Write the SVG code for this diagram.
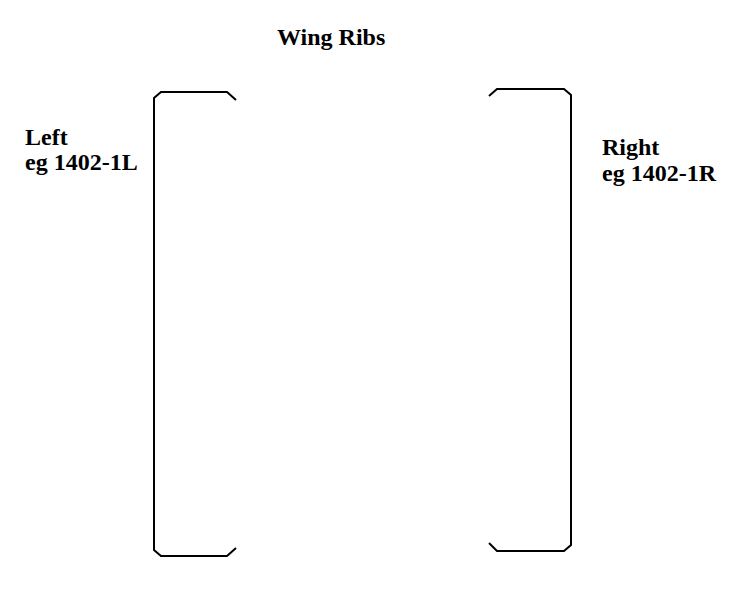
<svg xmlns="http://www.w3.org/2000/svg" width="735" height="597" viewBox="0 0 735 597">
<style>
text{font-family:"Liberation Serif","Times New Roman",serif;font-weight:bold;font-size:24px;fill:#000}
.br{fill:none;stroke:#000;stroke-width:2}
</style>
<rect width="735" height="597" fill="#fff"/>
<text x="277" y="45">Wing Ribs</text>
<g id="left">
<path class="br" d="M236,100 L227,92 L161,92 L154,98 L154,550 L161,556 L227,556 L236,548"/>
<text x="25" y="145">Left</text>
<text x="25" y="170">eg 1402-1L</text>
</g>
<g id="right">
<path class="br" d="M489,96 L497,89 L564,89 L571,95 L571,545 L564,551 L497,551 L489,543"/>
<text x="602" y="155">Right</text>
<text x="602" y="181">eg 1402-1R</text>
</g>
<g id="connectors"></g>
</svg>
